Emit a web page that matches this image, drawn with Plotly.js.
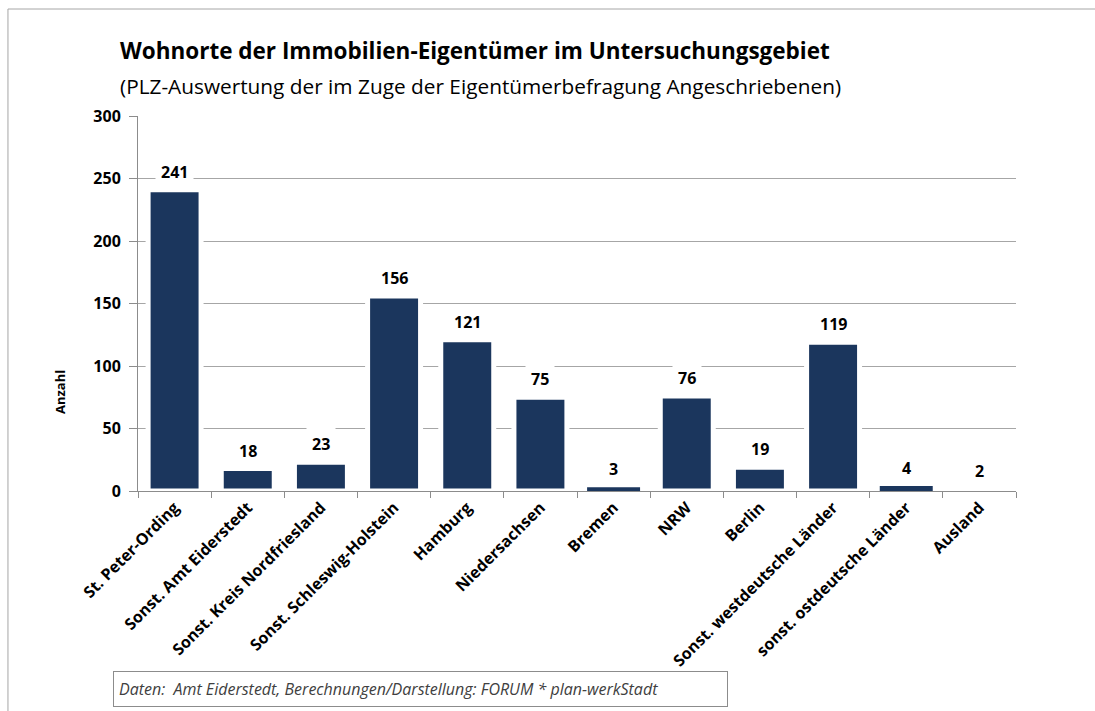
<!DOCTYPE html>
<html>
<head>
<meta charset="utf-8">
<script src="https://cdn.plot.ly/plotly-3.0.1.min.js"></script>
<style>
html,body{margin:0;padding:0;background:#fff;}
#chart{width:1095px;height:711px;}
</style>
</head>
<body>
<div id="chart"></div>
<script>
const categories = ["St. Peter-Ording","Sonst. Amt Eiderstedt","Sonst. Kreis Nordfriesland","Sonst. Schleswig-Holstein","Hamburg","Niedersachsen","Bremen","NRW","Berlin","Sonst. westdeutsche Länder","sonst. ostdeutsche Länder","Ausland"];
const values = [241,18,23,156,121,75,3,76,19,119,4,2];
const yTicks = [0,50,100,150,200,250,300];

const titleText = "Wohnorte der Immobilien-Eigentümer im Untersuchungsgebiet";
const subtitleText = "(PLZ-Auswertung der im Zuge der Eigentümerbefragung Angeschriebenen)";
const yTitle = "Anzahl";
const sourceText = "Daten:  Amt Eiderstedt, Berechnungen/Darstellung: FORUM * plan-werkStadt";

const FONT = "Open Sans, sans-serif";
// outline style per bar (white separator outline; thin bars drawn without it)
const outlineWidths = [5,5,5,5,5,5,0,5,5,5,0,5];

const trace = {
  type: "bar",
  x: categories,
  y: values,
  marker: {color: "#1b365d", line: {color: "#ffffff", width: outlineWidths}},
  hoverinfo: "skip"
};

const annotations = categories.map((c, i) => ({
  x: c, y: values[i], xref: "x", yref: "y",
  text: String(values[i]), showarrow: false,
  yanchor: "middle", yshift: 18,
  bgcolor: "#ffffff", borderpad: 5,
  font: {family: FONT, size: 16, color: "#000", weight: "bold"}
}));

annotations.push(
  {xref: "paper", yref: "paper", x: -0.0228, y: 1.176, xanchor: "left", yanchor: "middle",
   text: "<b>" + titleText + "</b>", showarrow: false,
   font: {family: FONT, size: 22.5, color: "#000"}},
  {xref: "paper", yref: "paper", x: -0.0228, y: 1.08, xanchor: "left", yanchor: "middle",
   text: subtitleText, showarrow: false,
   font: {family: FONT, size: 20.8, color: "#000"}},
  {xref: "paper", yref: "paper", x: -0.0888, y: 0.264, xanchor: "center", yanchor: "middle",
   text: "<b>" + yTitle + "</b>", showarrow: false, textangle: -90,
   font: {family: FONT, size: 13, color: "#000"}},
  {xref: "paper", yref: "paper", x: 0.3218, y: -0.528, xanchor: "center", yanchor: "middle",
   text: "<i>" + sourceText + "</i>", showarrow: false, align: "left",
   width: 603, height: 24, borderpad: 5, bordercolor: "#8c8c8c", borderwidth: 1, bgcolor: "#fff",
   font: {family: FONT, size: 16, color: "#404040"}}
);

const layout = {
  width: 1095, height: 711,
  margin: {l: 138, r: 79, t: 116, b: 220, pad: 0},
  paper_bgcolor: "#fff", plot_bgcolor: "#fff",
  showlegend: false,
  bargap: 0.276,
  font: {family: FONT},
  xaxis: {
    type: "category",
    tickangle: -45,
    tickfont: {family: FONT, size: 16, color: "#000", weight: "bold"},
    showgrid: false, showline: true, linecolor: "#8c8c8c", linewidth: 1,
    ticks: "outside", ticklen: 6, tickcolor: "#8c8c8c", tickson: "boundaries",
    zeroline: false
  },
  yaxis: {
    range: [0, 300], tickvals: yTicks, ticktext: yTicks.map(String),
    tickfont: {family: FONT, size: 16, color: "#000", weight: "bold"},
    ticklabelstandoff: 5,
    showgrid: true, gridcolor: "#a6a6a6", gridwidth: 1,
    showline: true, linecolor: "#8c8c8c", linewidth: 1,
    ticks: "outside", ticklen: 8, tickcolor: "#8c8c8c",
    zeroline: false
  },
  annotations: annotations,
  shapes: [
    {type: "line", xref: "paper", yref: "paper", x0: -0.1481, x1: 1.1, y0: 1.2853, y1: 1.2853,
     line: {color: "#a6a6a6", width: 1}},
    {type: "line", xref: "paper", yref: "paper", x0: -0.1481, x1: -0.1481, y0: 1.2853, y1: -0.6,
     line: {color: "#a6a6a6", width: 1}}
  ]
};

Plotly.newPlot("chart", [trace], layout, {displayModeBar: false, staticPlot: true});
</script>
</body>
</html>
